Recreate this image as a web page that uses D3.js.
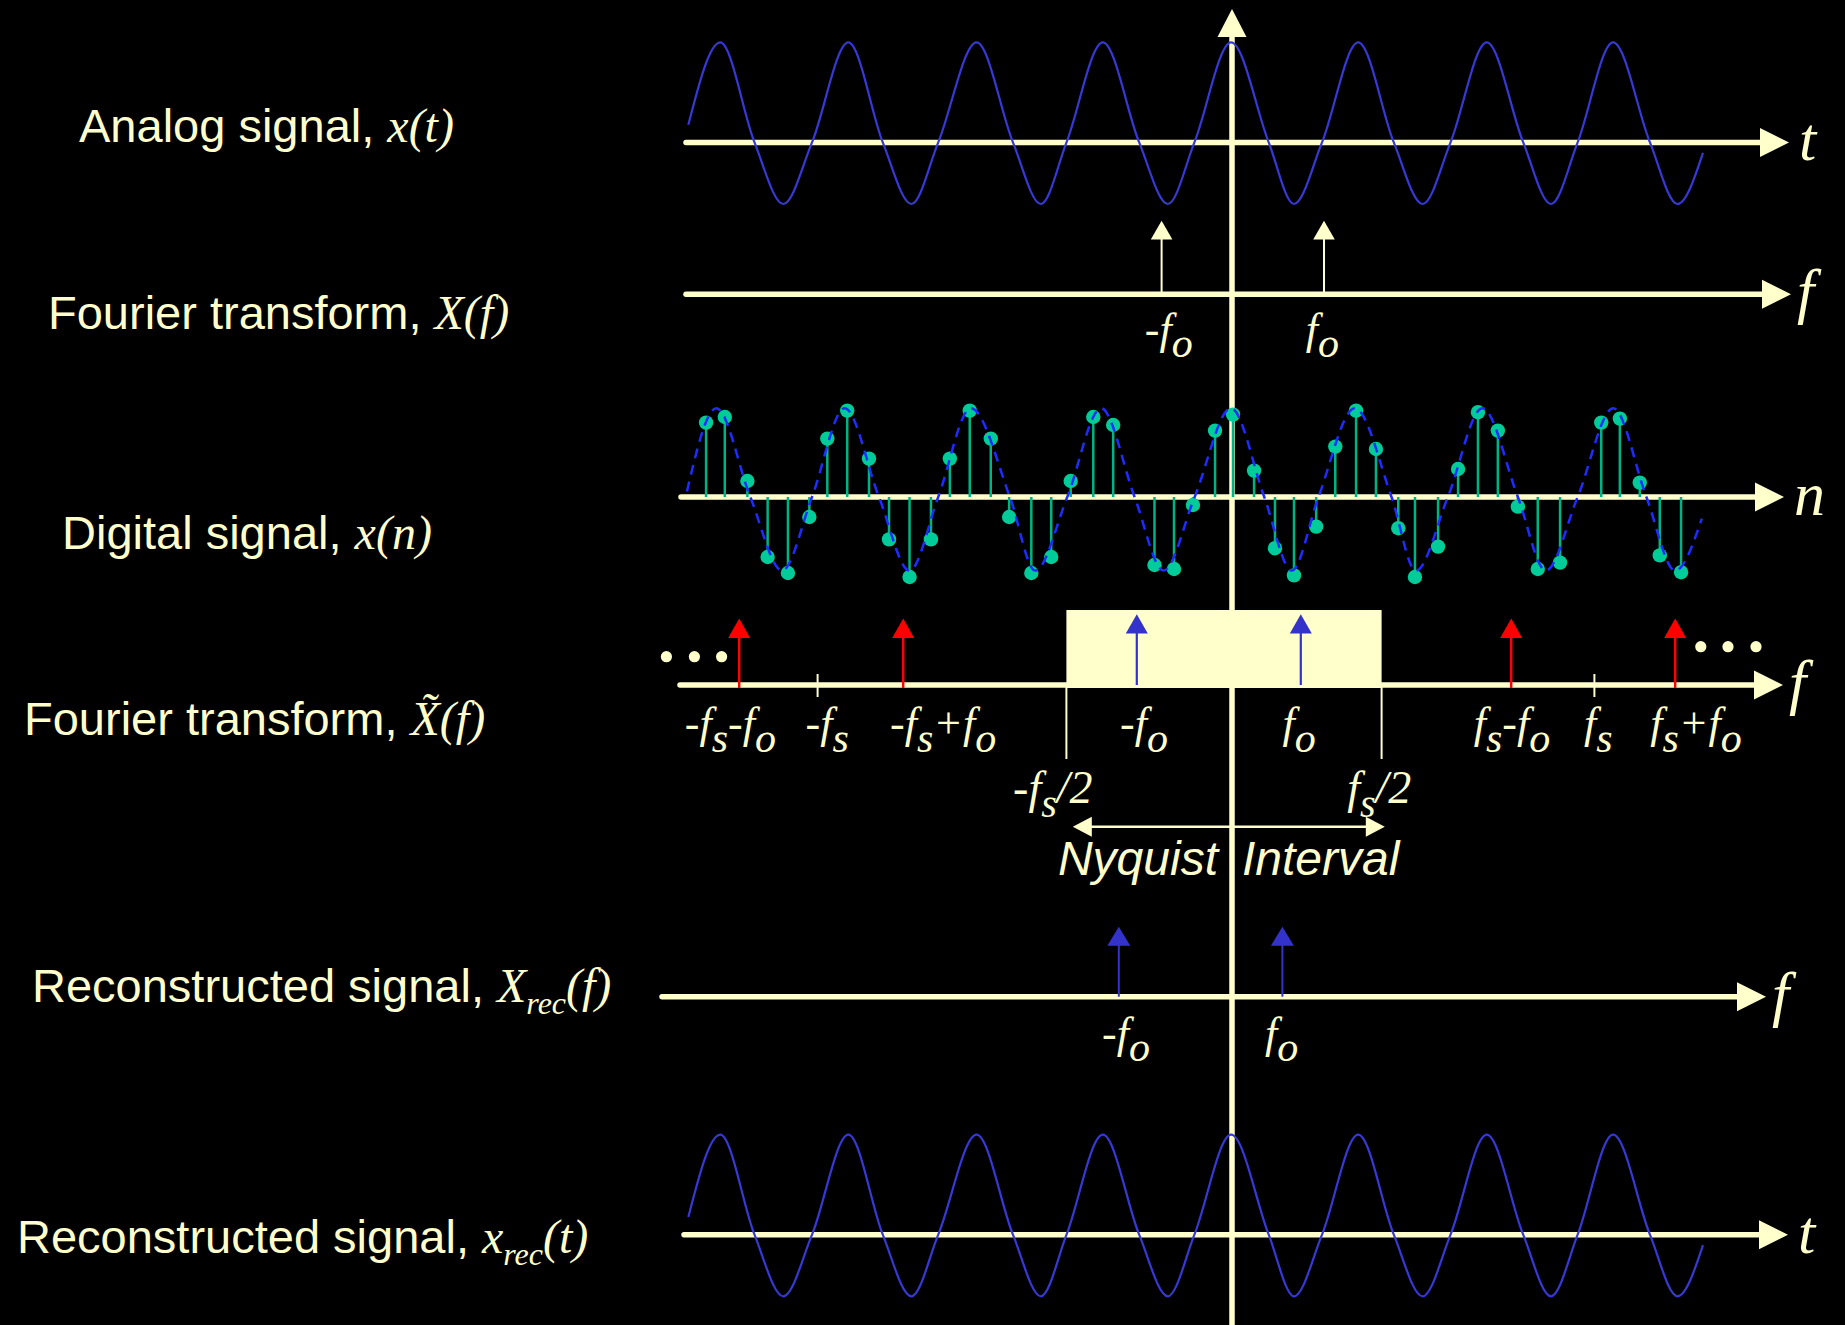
<!DOCTYPE html>
<html>
<head>
<meta charset="utf-8">
<script src="https://cdn.jsdelivr.net/npm/d3@7"></script>
<style>
  html, body { margin: 0; padding: 0; background: #000; }
  svg { display: block; }
</style>
</head>
<body>
<svg id="chart" width="1845" height="1325"></svg>
<script>
// ---------------- data ----------------
// Analog signal x(t): extrema and axis crossings, t in periods (0 = vertical axis)
const waveT = [-4.264, -4.014, -3.745, -3.519, -3.294, -3.009, -2.739, -2.514, -2.304, -2.003,
               -1.718, -1.499, -1.298, -1.013, -0.728, -0.503, -0.295, -0.007, 0.288, 0.486,
               0.706, 0.990, 1.269, 1.495, 1.714, 1.998, 2.284, 2.502, 2.711, 2.989,
               3.278, 3.494, 3.694];
const waveV = [0.22, 1.25, 0, -0.77, 0, 1.25, 0, -0.77, 0, 1.25,
               0, -0.77, 0, 1.25, 0, -0.77, 0, 1.25, 0, -0.77,
               0, 1.25, 0, -0.77, 0, 1.25, 0, -0.77, 0, 1.25,
               0, -0.77, -0.13];

// Underlying continuous signal behind the samples (dashed)
const dashT = [-4.275, -4.044, -3.778, -3.528, -3.294, -3.038, -2.769, -2.529, -2.304, -2.048,
               -1.742, -1.543, -1.292, -1.027, -0.764, -0.537, -0.293, -0.008, 0.253, 0.469,
               0.678, 0.963, 1.251, 1.442, 1.693, 1.964, 2.242, 2.461, 2.711, 2.990,
               3.250, 3.476, 3.685];
const dashV = [0.07, 1.11, 0, -0.92, 0, 1.11, 0, -0.92, 0, 1.11,
               0, -0.92, 0, 1.11, 0, -0.92, 0, 1.11, 0, -0.92,
               0, 1.11, 0, -0.92, 0, 1.11, 0, -0.92, 0, 1.11,
               0, -0.92, -0.27];

// Digital signal x(n): sample instants and values
const sampleT = [-4.125, -3.978, -3.801, -3.642, -3.483, -3.315, -3.174, -3.018, -2.847, -2.690,
                 -2.529, -2.361, -2.213, -2.057, -1.892, -1.748, -1.574, -1.418, -1.265, -1.088,
                 -0.932, -0.608, -0.455, -0.306, -0.133, 0.008, 0.173, 0.337, 0.486, 0.660,
                 0.810, 0.973, 1.129, 1.304, 1.435, 1.616, 1.773, 1.929, 2.085, 2.242,
                 2.398, 2.573, 2.896, 3.042, 3.198, 3.355, 3.522];
const sampleV = [0.93, 1.00, 0.20, -0.75, -0.95, -0.25, 0.73, 1.08, 0.48, -0.53,
                 -1.00, -0.53, 0.48, 1.08, 0.73, -0.25, -0.95, -0.75, 0.20, 1.00,
                 0.90, -0.85, -0.90, -0.10, 0.83, 1.03, 0.33, -0.64, -0.98, -0.37,
                 0.63, 1.08, 0.60, -0.39, -1.00, -0.62, 0.35, 1.06, 0.83, -0.12,
                 -0.90, -0.82, 0.93, 0.98, 0.18, -0.73, -0.94];

// Spectral lines (frequency position, height)
const toneFreqs = [-0.88, 1.15];
const toneHeights = [1.05, 1.05];
const baseFreqs = [-1.19, 0.86];
const baseHeights = [1.01, 1.01];
const imageFreqs = [-6.16, -4.11, 3.49, 5.54];
const imageHeights = [0.95, 0.95, 0.95, 0.95];
const recFreqs = [-1.415, 0.63];
const recHeights = [1.0, 1.0];

const sampleRateTicks = [-5.18, 4.53];
const nyquistEdges = [-2.07, 1.87];
const nyquistArrow = [-1.99, 1.91];
const leftDots = [-7.07, -6.72, -6.38];
const rightDots = [5.86, 6.20, 6.55];

// Tick labels
const toneLabels = ["-f_o", "f_o"];
const toneLabelPos = [-0.79, 1.13];
const spectrumLabels = ["-f_s-f_o", "-f_s", "-f_s+f_o", "-f_o", "f_o", "f_s-f_o", "f_s", "f_s+f_o"];
const spectrumLabelPos = [-6.27, -5.06, -3.61, -1.10, 0.84, 3.50, 4.58, 5.80];
const edgeLabels = ["-f_s/2", "f_s/2"];
const edgeLabelPos = [-2.24, 1.84];
const recLabels = ["-f_o", "f_o"];
const recLabelPos = [-1.325, 0.62];

// Row titles
const rowTitles = ["Analog signal, ", "Fourier transform, ", "Digital signal, ",
                   "Fourier transform, ", "Reconstructed signal, ", "Reconstructed signal, "];
const rowMath = ["x(t)", "X(f)", "x(n)", "X\u0303(f)", "X_{rec}(f)", "x_{rec}(t)"];
const axisLetters = ["t", "f", "n", "f", "f", "t"];

// ---------------- layout ----------------
const cream = "#FFFFCC";
const waveBlue = "#3838D6";
const dashBlue = "#1F2BFF";
const lineBlue = "#3333CC";
const teal = "#00CC99";
const stemTeal = "#00B386";
const axisX = 1232;
const serif = "'Liberation Serif', 'Times New Roman', serif";
const sans = "'Liberation Sans', Arial, sans-serif";

const rows = [
  { y: 142.4, x0: 686, tip: 1789, lx: 79, ly: 141.7 },
  { y: 294.3, x0: 686, tip: 1791, lx: 48, ly: 329 },
  { y: 497,   x0: 681, tip: 1784, lx: 62, ly: 549 },
  { y: 685,   x0: 680, tip: 1783, lx: 24, ly: 735 },
  { y: 996.7, x0: 662, tip: 1766, lx: 32, ly: 1002 },
  { y: 1234.7, x0: 684, tip: 1788, lx: 17, ly: 1253 }
];

const tx = d3.scaleLinear().domain([-1, 1]).range([axisX - 127.5, axisX + 127.5]);
const fx = d3.scaleLinear().domain([-1, 1]).range([axisX - 80, axisX + 80]);
const ampY = (axisY, px) => d3.scaleLinear().domain([0, 1]).range([axisY, axisY - px]);

const svg = d3.select("#chart");
svg.append("rect").attr("width", 1845).attr("height", 1325).attr("fill", "#000");

const gAxes = svg.append("g");
const gMarks = svg.append("g");
const gText = svg.append("g");

// vertical axis with arrow
gAxes.append("line")
  .attr("x1", axisX).attr("x2", axisX).attr("y1", 30).attr("y2", 1325)
  .attr("stroke", cream).attr("stroke-width", 5.5);
gAxes.append("path")
  .attr("d", `M${axisX},9 L${axisX + 14.5},37 L${axisX - 14.5},37 Z`)
  .attr("fill", cream);

// horizontal axes with arrows
rows.forEach(r => {
  gAxes.append("line")
    .attr("x1", r.x0).attr("x2", r.tip - 25).attr("y1", r.y).attr("y2", r.y)
    .attr("stroke", cream).attr("stroke-width", 5.5).attr("stroke-linecap", "round");
  gAxes.append("path")
    .attr("d", `M${r.tip},${r.y} L${r.tip - 29},${r.y - 14.5} L${r.tip - 29},${r.y + 14.5} Z`)
    .attr("fill", cream);
});

// parse "a_b" / "a_{bc}" into normal / subscript segments
function parseFormula(s) {
  const segs = [];
  let buf = "";
  for (let i = 0; i < s.length; i++) {
    const c = s[i];
    if (c === "_") {
      if (buf) { segs.push([buf, 0]); buf = ""; }
      if (s[i + 1] === "{") {
        const j = s.indexOf("}", i + 2);
        segs.push([s.slice(i + 2, j), 1]);
        i = j;
      } else {
        segs.push([s[i + 1], 1]);
        i++;
      }
    } else buf += c;
  }
  if (buf) segs.push([buf, 0]);
  return segs;
}

function formulaText(parent, x, y, str, size, subSize, subShift, anchor) {
  const t = parent.append("text")
    .attr("x", x).attr("y", y)
    .attr("text-anchor", anchor || "start")
    .attr("fill", cream)
    .attr("font-family", serif).attr("font-style", "italic");
  let cur = 0;
  parseFormula(str).forEach(([txt, sub]) => {
    const shift = sub ? subShift : 0;
    const ts = t.append("tspan").text(txt).attr("font-size", sub ? subSize : size);
    if (shift !== cur) ts.attr("dy", shift - cur);
    cur = shift;
  });
  return t;
}

// impulse arrow
function impulse(g, x, yBase, yTip, color, w, headLen, headHalf) {
  g.append("line")
    .attr("x1", x).attr("x2", x).attr("y1", yBase).attr("y2", yTip + headLen - 1)
    .attr("stroke", color).attr("stroke-width", w);
  g.append("path")
    .attr("d", `M${x},${yTip} L${x + headHalf},${yTip + headLen} L${x - headHalf},${yTip + headLen} Z`)
    .attr("fill", color);
}

// ---- row 1: analog signal ----
const waveData = waveT.map((t, i) => [t, waveV[i]]);
{
  const y = ampY(rows[0].y, 80);
  gMarks.append("path")
    .attr("d", d3.line().x(d => tx(d[0])).y(d => y(d[1])).curve(d3.curveMonotoneX)(waveData))
    .attr("fill", "none").attr("stroke", waveBlue).attr("stroke-width", 2.2);
}

// ---- row 2: spectrum of analog signal ----
{
  const r = rows[1], y = ampY(r.y, 70);
  toneFreqs.forEach((f, i) => impulse(gMarks, fx(f), r.y, y(toneHeights[i]), cream, 2, 18.6, 10.8));
  toneLabels.forEach((s, i) => formulaText(gText, fx(toneLabelPos[i]), r.y + 50, s, 44, 42, 13, "middle"));
}

// ---- row 3: digital signal ----
{
  const r = rows[2], y = ampY(r.y, 80);
  const dashData = dashT.map((t, i) => [t, dashV[i]]);
  const samples = sampleT.map((t, i) => [t, sampleV[i]]);
  gMarks.selectAll(".stem").data(samples).join("line")
    .attr("x1", d => tx(d[0])).attr("x2", d => tx(d[0]))
    .attr("y1", r.y).attr("y2", d => y(d[1]))
    .attr("stroke", stemTeal).attr("stroke-width", 2.5);
  gMarks.selectAll(".dot").data(samples).join("circle")
    .attr("cx", d => tx(d[0])).attr("cy", d => y(d[1])).attr("r", 7.2)
    .attr("fill", teal);
  gMarks.append("path")
    .attr("d", d3.line().x(d => tx(d[0])).y(d => y(d[1])).curve(d3.curveMonotoneX)(dashData))
    .attr("fill", "none").attr("stroke", dashBlue).attr("stroke-width", 2.5)
    .attr("stroke-dasharray", "10,7");
}

// ---- row 4: spectrum of sampled signal ----
{
  const r = rows[3], y = ampY(r.y, 70);
  gAxes.append("rect")
    .attr("x", fx(nyquistEdges[0])).attr("width", fx(nyquistEdges[1]) - fx(nyquistEdges[0]))
    .attr("y", r.y - 75).attr("height", 78)
    .attr("fill", cream);
  nyquistEdges.forEach(f => gMarks.append("line")
    .attr("x1", fx(f)).attr("x2", fx(f)).attr("y1", r.y).attr("y2", r.y + 74)
    .attr("stroke", cream).attr("stroke-width", 2));
  sampleRateTicks.forEach(f => gMarks.append("line")
    .attr("x1", fx(f)).attr("x2", fx(f)).attr("y1", r.y - 11).attr("y2", r.y + 12)
    .attr("stroke", cream).attr("stroke-width", 2));
  imageFreqs.forEach((f, i) => impulse(gMarks, fx(f), r.y + 3, y(imageHeights[i]), "#FF0000", 2.4, 19.4, 11));
  baseFreqs.forEach((f, i) => impulse(gMarks, fx(f), r.y, y(baseHeights[i]), lineBlue, 2.2, 19.3, 11));
  leftDots.forEach(f => gMarks.append("circle").attr("cx", fx(f)).attr("cy", r.y - 28.3).attr("r", 5.6).attr("fill", cream));
  rightDots.forEach(f => gMarks.append("circle").attr("cx", fx(f)).attr("cy", r.y - 38.3).attr("r", 5.6).attr("fill", cream));

  spectrumLabels.forEach((s, i) => formulaText(gText, fx(spectrumLabelPos[i]), r.y + 53, s, 44, 42, 14, "middle"));
  edgeLabels.forEach((s, i) => formulaText(gText, fx(edgeLabelPos[i]), r.y + 118, s, 46, 40, 14, "middle"));

  // Nyquist interval double arrow
  const ay = r.y + 141.7;
  const xl = fx(nyquistArrow[0]), xr = fx(nyquistArrow[1]);
  gMarks.append("line").attr("x1", xl + 15).attr("x2", xr - 15).attr("y1", ay).attr("y2", ay)
    .attr("stroke", cream).attr("stroke-width", 2.5);
  gMarks.append("path").attr("d", `M${xl},${ay} L${xl + 19},${ay - 10} L${xl + 19},${ay + 10} Z`).attr("fill", cream);
  gMarks.append("path").attr("d", `M${xr},${ay} L${xr - 19},${ay - 10} L${xr - 19},${ay + 10} Z`).attr("fill", cream);
  gText.append("text").attr("x", axisX - 14).attr("y", r.y + 190)
    .attr("text-anchor", "end").attr("font-family", sans).attr("font-style", "italic")
    .attr("font-size", 48).attr("fill", cream).text("Nyquist");
  gText.append("text").attr("x", axisX + 10).attr("y", r.y + 190)
    .attr("text-anchor", "start").attr("font-family", sans).attr("font-style", "italic")
    .attr("font-size", 48).attr("fill", cream).text("Interval");
}

// ---- row 5: reconstructed spectrum ----
{
  const r = rows[4], y = ampY(r.y, 70);
  recFreqs.forEach((f, i) => impulse(gMarks, fx(f), r.y, y(recHeights[i]), lineBlue, 2, 19, 11.5));
  recLabels.forEach((s, i) => formulaText(gText, fx(recLabelPos[i]), r.y + 51, s, 44, 42, 13, "middle"));
}

// ---- row 6: reconstructed signal ----
{
  const y = ampY(rows[5].y, 80);
  gMarks.append("path")
    .attr("d", d3.line().x(d => tx(d[0])).y(d => y(d[1])).curve(d3.curveMonotoneX)(waveData))
    .attr("fill", "none").attr("stroke", waveBlue).attr("stroke-width", 2.2);
}

// ---- axis letters ----
rows.forEach((r, i) => {
  const l = axisLetters[i];
  gText.append("text")
    .attr("x", r.tip + (l === "f" ? 6 : 10)).attr("y", r.y + 18)
    .attr("font-family", serif).attr("font-style", "italic").attr("font-size", 62)
    .attr("fill", cream).text(l);
});

// ---- row titles ----
rows.forEach((r, i) => {
  const t = gText.append("text").attr("x", r.lx).attr("y", r.ly).attr("fill", cream);
  t.append("tspan").attr("font-family", sans).attr("font-size", 47).text(rowTitles[i]);
  let cur = 0;
  parseFormula(rowMath[i]).forEach(([txt, sub]) => {
    const shift = sub ? 12 : 0;
    const ts = t.append("tspan").attr("font-family", serif).attr("font-style", "italic")
      .attr("font-size", sub ? 32 : 48).text(txt);
    if (shift !== cur) ts.attr("dy", shift - cur);
    cur = shift;
  });
});
</script>
</body>
</html>
